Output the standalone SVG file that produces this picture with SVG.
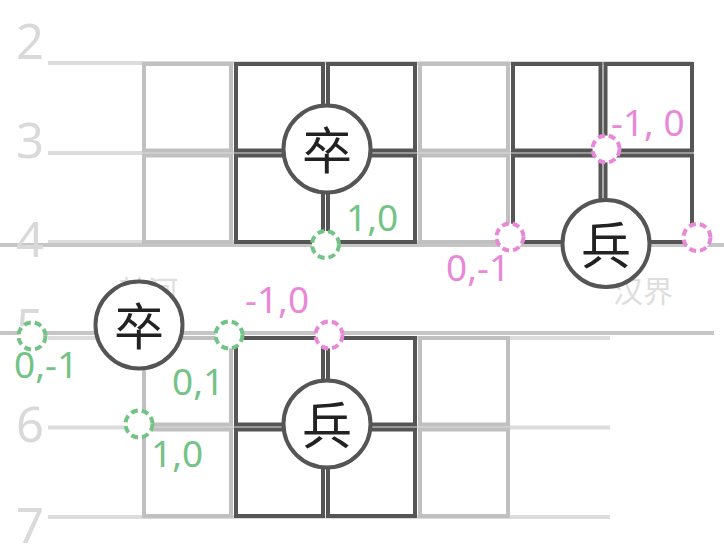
<svg xmlns="http://www.w3.org/2000/svg" width="724" height="560" viewBox="0 0 724 560">
<style>
.axis{stroke:#dcdcdc;stroke-width:4;fill:none}
.river{stroke:#c6c6c6;stroke-width:4;fill:none}
.gc{fill:none;stroke:#c0c0c0;stroke-width:4}
.dc{fill:none;stroke:#555;stroke-width:4}
.num{font-family:"Noto Sans","Open Sans","Liberation Sans",sans-serif;font-size:49px;fill:#d9d9d9}
.rv{font-family:"Noto Sans CJK SC","Noto Sans",sans-serif;font-size:30px;fill:#dedede}
.pc{fill:#fff;stroke:#555;stroke-width:4}
.pt{font-family:"Noto Sans CJK SC","Noto Sans",sans-serif;font-size:50px;fill:#222;text-anchor:middle}
.mg{fill:#fff;stroke:#74c386;stroke-width:4;stroke-dasharray:7 4}
.mp{fill:#fff;stroke:#e889d8;stroke-width:4;stroke-dasharray:7 4}
.lg{font-family:"Noto Sans","Open Sans","Liberation Sans",sans-serif;font-size:37px;fill:#74c386}
.lp{font-family:"Noto Sans","Open Sans","Liberation Sans",sans-serif;font-size:37px;fill:#e889d8}
</style>
<g id="axis-lines">
<line class="axis" x1="48" y1="63" x2="693" y2="63"/>
<line class="axis" x1="48" y1="153" x2="693" y2="153"/>
<line class="axis" x1="48" y1="242" x2="693" y2="242"/>
<line class="axis" x1="48" y1="338" x2="610" y2="338"/>
<line class="axis" x1="48" y1="427.5" x2="610" y2="427.5"/>
<line class="axis" x1="48" y1="517" x2="610" y2="517"/>
</g>
<g id="river-lines">
<line class="river" x1="0" y1="245" x2="724" y2="245"/>
<line class="river" x1="0" y1="333" x2="714" y2="333"/>
</g>
<g id="top-board">
<rect class="gc" x="144" y="64" width="87" height="86.5"/>
<rect class="gc" x="144" y="155.5" width="87" height="86.5"/>
<rect class="gc" x="420" y="64" width="88" height="86.5"/>
<rect class="gc" x="420" y="155.5" width="88" height="86.5"/>
<rect class="dc" x="236" y="64" width="87" height="86.5"/>
<rect class="dc" x="328" y="64" width="87" height="86.5"/>
<rect class="dc" x="236" y="155.5" width="87" height="86.5"/>
<rect class="dc" x="328" y="155.5" width="87" height="86.5"/>
<rect class="dc" x="513" y="64" width="87.5" height="86.5"/>
<rect class="dc" x="605.5" y="64" width="86.5" height="86.5"/>
<rect class="dc" x="513" y="155.5" width="87.5" height="86.5"/>
<rect class="dc" x="605.5" y="155.5" width="86.5" height="86.5"/>
</g>
<g id="bottom-board">
<rect class="gc" x="144" y="338" width="87" height="86.5"/>
<rect class="gc" x="144" y="429.5" width="87" height="86.5"/>
<rect class="gc" x="420" y="338" width="88" height="86.5"/>
<rect class="gc" x="420" y="429.5" width="88" height="86.5"/>
<rect class="dc" x="236" y="338" width="87" height="86.5"/>
<rect class="dc" x="328" y="338" width="87" height="86.5"/>
<rect class="dc" x="236" y="429.5" width="87" height="86.5"/>
<rect class="dc" x="328" y="429.5" width="87" height="86.5"/>
</g>
<g id="row-labels">
<text class="num" x="16" y="59">2</text>
<text class="num" x="16" y="158">3</text>
<text class="num" x="16" y="257">4</text>
<text class="num" x="16" y="344">5</text>
<text class="num" x="16" y="442">6</text>
<text class="num" x="16" y="543">7</text>
</g>
<g id="river-text">
<text class="rv" x="118" y="302">楚河</text>
<text class="rv" x="613" y="302">汉界</text>
</g>
<g id="piece-zu-top">
<circle class="pc" cx="327" cy="149" r="43.5"/>
<text class="pt" x="327" y="169">卒</text>
</g>
<g id="piece-zu-left">
<circle class="pc" cx="139" cy="325" r="43.5"/>
<text class="pt" x="139" y="345">卒</text>
</g>
<g id="piece-bing-right">
<circle class="pc" cx="606" cy="243.5" r="43.5"/>
<text class="pt" x="606" y="263.5">兵</text>
</g>
<g id="piece-bing-bottom">
<circle class="pc" cx="327" cy="424" r="43.5"/>
<text class="pt" x="327" y="444">兵</text>
</g>
<g id="moves-green">
<circle class="mg" cx="325.5" cy="244.5" r="13.5"/>
<circle class="mg" cx="32" cy="336" r="13.5"/>
<circle class="mg" cx="229" cy="335" r="13.5"/>
<circle class="mg" cx="139" cy="424" r="13.5"/>
<text class="lg" x="346" y="231">1,0</text>
<text class="lg" x="14" y="378">0,-1</text>
<text class="lg" x="172" y="395">0,1</text>
<text class="lg" x="151" y="467">1,0</text>
</g>
<g id="moves-pink">
<circle class="mp" cx="329" cy="335" r="13.5"/>
<circle class="mp" cx="510" cy="237" r="13.5"/>
<circle class="mp" cx="606" cy="149" r="13.5"/>
<circle class="mp" cx="697" cy="237.5" r="13.5"/>
<text class="lp" x="611" y="136">-1, 0</text>
<text class="lp" x="446" y="281">0,-1</text>
<text class="lp" x="245" y="313">-1,0</text>
</g>
</svg>
